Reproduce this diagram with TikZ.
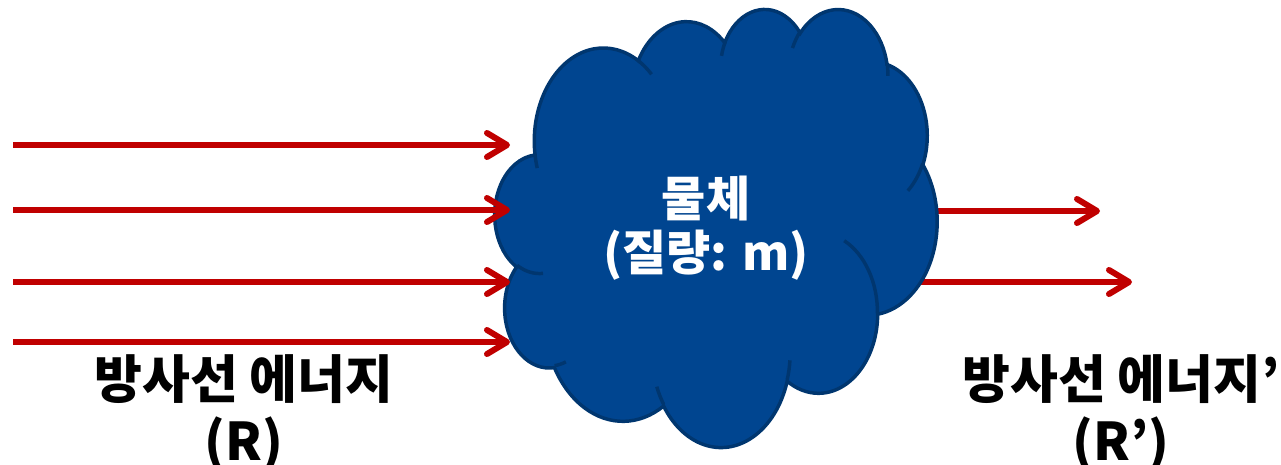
\documentclass[tikz,border=0pt]{standalone}
\usepackage{fontspec}
\newfontfamily\krfont{Noto Sans CJK KR}
\usetikzlibrary{arrows.meta}

\definecolor{rayred}{HTML}{C00000}
\definecolor{cloudblue}{HTML}{004590}
\definecolor{cloudedge}{HTML}{00366F}

% elliptic arc given as wR/hR/start/sweep, angles seen from the centre
\tikzset{
  ooarc/.code args={#1/#2/#3/#4}{%
    \pgfmathsetmacro\ooS{atan2(#1*sin(#3),#2*cos(#3))}%
    \pgfmathsetmacro\ooE{atan2(#1*sin(#3+#4),#2*cos(#3+#4))}%
    \pgfmathsetmacro\ooD{\ooE-\ooS}%
    \pgfmathsetmacro\ooD{\ooD+360*round((#4-\ooD)/360)}%
    \pgfkeysalso{x radius=#1,y radius=#2,start angle=\ooS,delta angle=\ooD}}
}

\begin{document}
\begin{tikzpicture}
  [x=0.75pt,y=-0.75pt,
   ray/.style={rayred,line width=4.5pt,-{Straight Barb[length=15pt,width=18pt,round]}},
   cloudbody/.style={fill=cloudblue,draw=cloudedge,line width=2.6pt},
   crease/.style={draw=cloudedge,line width=2.6pt},
   objtext/.style={text=white,font=\krfont\bfseries\fontsize{36}{40.5}\selectfont,align=center,inner sep=0pt},
   lbl/.style={font=\krfont\bfseries\fontsize{39}{46}\selectfont,align=center,inner sep=0pt}]
  \useasboundingbox (0,0) rectangle (1281,464);

  \foreach \i/\y in {1/145, 2/210, 3/282, 4/342} {
    \coordinate (in\i) at (13,\y);
    \coordinate (hit\i) at (510,\y);
  }
  \coordinate (src1) at (900,211);
  \coordinate (src2) at (890,282);
  \coordinate (out1) at (1100,211);
  \coordinate (out2) at (1132,282);

  \foreach \from/\to in {src1/out1, src2/out2}
    \draw [ray] (\from) -- (\to);

  % cloud
  \begin{scope}[shift={(495,8)},x=0.07674pt,y=-0.07604pt]
    \draw[cloudbody] (390,1437)
      arc[ooarc=675.3/919/-190.487/123.781]
      arc[ooarc=533.3/726.7/-144.102/89.945]
      arc[ooarc=436.5/594.5/-145.808/99.723]
      arc[ooarc=485.7/659.5/-130.986/117.242]
      arc[ooarc=533.3/727.3/-78.709/109.027]
      arc[ooarc=677.5/922/-46.267/130.269]
      arc[ooarc=578.5/786.7/0.625/114.033]
      arc[ooarc=675.2/921.5/22.452/115.173]
      arc[ooarc=772/1054.3/66.243/75.711]
      arc[ooarc=436/591.8/-274.942/146.736]
      arc[ooarc=434.5/594.5/-246.829/152.519]
      -- cycle;
    \foreach \px/\py/\w/\h/\s/\d in {
      469.3/2617.7/434.5/594.5/86.742/26.430,
      692.8/3489.9/436/591.8/73.610/11.447,
      1647.8/3909/675.2/921.5/137.624/14.081,
      2882.7/3475.1/675.2/921.5/6.453/15.998,
      3412.9/2295.4/578.5/786.7/-70.292/70.917,
      4179.8/1535.4/533.3/727.3/30.318/27.752,
      3832.4/542.6/485.7/659.5/-13.744/14.859,
      2907.8/395.2/485.7/659.5/-149.181/18.195,
      2214.1/472/436.5/594.5/-163.494/17.686,
      1400/519.2/675.3/919/-66.707/12.319,
      412.7/1578.9/675.3/919/157.654/11.858}
      \draw[crease] (\px,\py) arc[ooarc=\w/\h/\s/\d];
  \end{scope}

  \node[objtext] (obj) at (706,228) {물체\\(질량: m)};

  \foreach \i in {1,...,4}
    \draw [ray] (in\i) -- (hit\i);

  \node[lbl] (rin) at (244,413) {방사선 에너지\\(R)};
  \node[lbl] (rout) at (1121,413) {방사선 에너지’\\(R’)};
\end{tikzpicture}
\end{document}
